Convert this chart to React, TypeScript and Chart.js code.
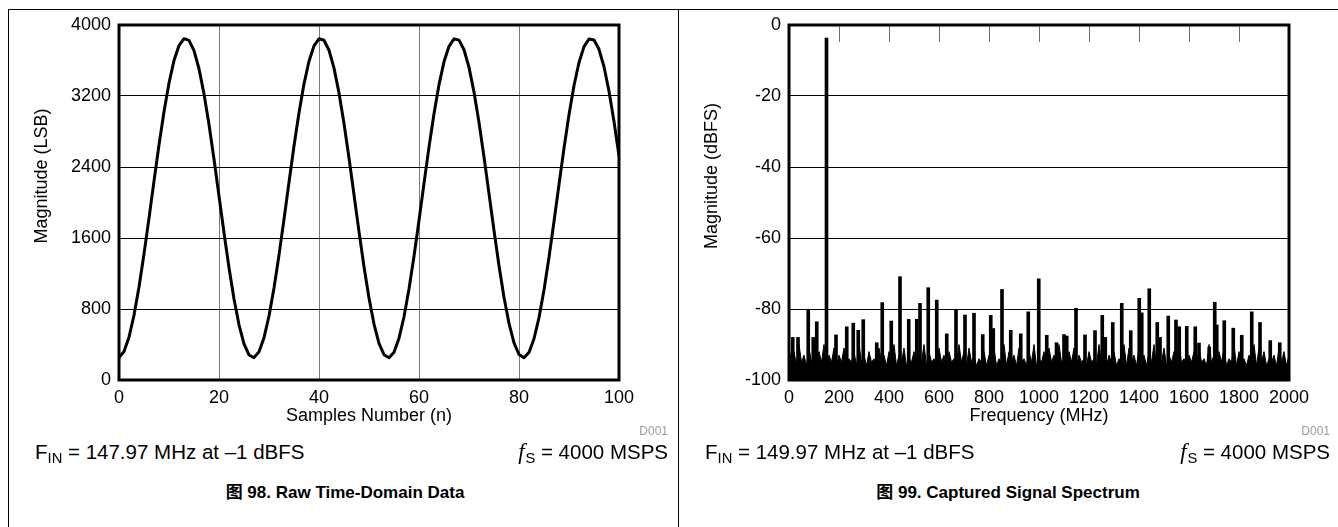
import React, { useEffect, useRef } from "react";
import { Chart, registerables } from "chart.js";

Chart.register(...registerables);

const FONT = "'Liberation Sans', Arial, Helvetica, 'Noto Sans CJK SC', sans-serif";

// ---------- Figure 98: raw time-domain samples ----------
const SAMPLE_X_TICKS = [0, 20, 40, 60, 80, 100];
const SAMPLE_MAGNITUDE_LSB = [
  252, 321, 483, 730, 1047, 1419, 1824, 2241, 2648, 3023,
  3346, 3599, 3768, 3846, 3826, 3711, 3507, 3224, 2879, 2488,
  2074, 1659, 1265, 913, 622, 408, 282, 252, 318, 477,
  721, 1036, 1407, 1811, 2228, 2636, 3012, 3337, 3592, 3765,
  3845, 3828, 3716, 3514, 3234, 2890, 2501, 2087, 1672, 1276,
  923, 630, 413, 285, 251, 314, 471, 712, 1026, 1394,
  1798, 2215, 2624, 3001, 3328, 3585, 3760, 3844, 3830, 3721,
  3522, 3244, 2902, 2513, 2100, 1685, 1288, 933, 638, 419,
  287, 251, 311, 465, 703, 1015, 1382, 1785, 2202, 2611,
  2990, 3318, 3578, 3756, 3842, 3832, 3726, 3530, 3253, 2913,
  2526,
];

// ---------- Figure 99: captured spectrum ----------
const SPUR_FREQ_MHZ = [
  15, 36, 77, 97, 111, 150, 188, 231, 257, 277,
  297, 351, 373, 409, 444, 479, 511, 524, 557, 591,
  631, 668, 704, 740, 775, 807, 817, 852, 887, 927,
  957, 999, 1031, 1070, 1100, 1111, 1148, 1184, 1224, 1253,
  1265, 1295, 1331, 1367, 1401, 1411, 1441, 1473, 1484, 1517,
  1548, 1561, 1591, 1625, 1640, 1681, 1703, 1711, 1741, 1777,
  1811, 1851, 1884, 1925, 1963,
];
const SPUR_DBFS = [
  -88, -88, -80.3, -88, -83.6, -3.7, -87.3, -85, -84, -86,
  -83, -89.5, -78.2, -83.4, -70.9, -82.9, -82.9, -78.4, -74, -77.5,
  -87, -80.1, -81.7, -81.2, -87.2, -81.8, -85.5, -74.5, -86, -87,
  -80.8, -71.5, -87.4, -89.5, -87.2, -87.6, -79.8, -87.3, -86.1, -81.8,
  -88, -83.8, -78.4, -86.1, -77, -81.1, -74.3, -83.8, -88, -82,
  -83.1, -85, -84.9, -85, -89.6, -90.7, -78.1, -84.5, -83.3, -85.4,
  -87.4, -80.8, -83.8, -88.9, -89.5,
];
const NOISE_STEP_MHZ = 10;
const NOISE_DBFS = [
  -91, -95, -92, -96, -90, -95, -93, -96, -91, -95, -94, -96, -92, -95, -90, -96, -93, -95, -91, -96,
  -93, -95, -91, -96, -94, -95, -92, -96, -90, -95, -93, -96, -92, -95, -94, -96, -91, -95, -93, -96,
  -92, -95, -90, -96, -93, -95, -91, -96, -94, -95, -92, -96, -93, -95, -90, -96, -92, -95, -94, -96,
  -91, -95, -93, -96, -92, -95, -94, -96, -90, -95, -92, -96, -91, -95, -93, -96, -94, -95, -92, -96,
  -93, -95, -91, -96, -94, -95, -90, -96, -92, -95, -93, -96, -91, -95, -94, -96, -92, -95, -90, -96,
  -94, -95, -92, -96, -91, -95, -93, -96, -90, -95, -94, -96, -92, -95, -91, -96, -93, -95, -94, -96,
  -92, -95, -94, -96, -90, -95, -91, -96, -93, -95, -92, -96, -94, -95, -90, -96, -91, -95, -93, -96,
  -91, -95, -93, -96, -92, -95, -90, -96, -94, -95, -91, -96, -93, -95, -92, -96, -90, -95, -94, -96,
  -93, -95, -92, -96, -91, -95, -94, -96, -90, -95, -93, -96, -92, -95, -91, -96, -94, -95, -90, -96,
  -92, -95, -94, -96, -93, -95, -90, -96, -91, -95, -92, -96, -94, -95, -93, -96, -91, -95, -92, -96,
  -93,
];

const CANVAS_H = 440;

const framePlugin = {
  id: "frame",
  afterDraw(chart: any) {
    const { ctx, chartArea } = chart;
    const opts = chart.options.plugins.frame || {};
    ctx.save();
    if (opts.topTicks) {
      const xs = chart.scales.x;
      ctx.strokeStyle = "#6f6f6f";
      ctx.lineWidth = 1;
      xs.ticks.forEach((t: any) => {
        if (t.value <= xs.min || t.value >= xs.max) return;
        const px = Math.round(xs.getPixelForValue(t.value)) + 0.5;
        ctx.beginPath();
        ctx.moveTo(px, chartArea.top);
        ctx.lineTo(px, chartArea.top + 17);
        ctx.stroke();
      });
    }
    ctx.strokeStyle = "#000";
    ctx.lineWidth = 3;
    ctx.strokeRect(chartArea.left, chartArea.top, chartArea.right - chartArea.left, chartArea.bottom - chartArea.top);
    ctx.restore();
  },
};

const tickFont = { family: FONT, size: 18 };
const titleFont = { family: FONT, size: 18 };
const plainTick = (v: any) => String(v);

function TimeChart() {
  const ref = useRef<HTMLCanvasElement>(null);
  useEffect(() => {
    const chart = new Chart(ref.current as HTMLCanvasElement, {
      type: "line",
      data: {
        datasets: [
          {
            data: SAMPLE_MAGNITUDE_LSB.map((y, x) => ({ x, y })),
            borderColor: "#000",
            borderWidth: 3,
            pointRadius: 0,
            tension: 0,
            borderJoinStyle: "round",
            fill: false,
          },
        ],
      },
      options: {
        animation: false,
        responsive: false,
        maintainAspectRatio: false,
        layout: { padding: { left: 0, top: 25, right: 59, bottom: 0 } },
        plugins: { legend: { display: false }, tooltip: { enabled: false }, frame: {} } as any,
        scales: {
          x: {
            type: "linear",
            min: SAMPLE_X_TICKS[0],
            max: SAMPLE_X_TICKS[SAMPLE_X_TICKS.length - 1],
            afterFit: (s: any) => { s.height = 60; },
            afterBuildTicks: (s: any) => { s.ticks = SAMPLE_X_TICKS.map((v) => ({ value: v })); },
            border: { display: false },
            grid: {
              drawTicks: false,
              lineWidth: 1,
              color: (c: any) => (c.tick && c.tick.value > 0 && c.tick.value < 100 ? "#7a7a7a" : "rgba(0,0,0,0)"),
            },
            ticks: { padding: 7, color: "#000", font: tickFont, maxRotation: 0, callback: plainTick },
            title: { display: true, text: "Samples Number (n)", color: "#000", font: titleFont, padding: { top: 0, bottom: 13 } },
          },
          y: {
            min: 0,
            max: 4000,
            afterFit: (s: any) => { s.width = 119; },
            border: { display: false },
            grid: {
              drawTicks: false,
              lineWidth: 1,
              color: (c: any) => (c.tick && c.tick.value > 0 && c.tick.value < 4000 ? "#000" : "rgba(0,0,0,0)"),
            },
            ticks: { stepSize: 800, padding: 8, color: "#000", font: tickFont, callback: plainTick },
          },
        },
      } as any,
      plugins: [framePlugin],
    } as any);
    return () => chart.destroy();
  }, []);
  return <canvas ref={ref} width={678} height={CANVAS_H} style={{ position: "absolute", left: 0, top: 0, width: 678, height: CANVAS_H }} />;
}

function SpectrumChart() {
  const ref = useRef<HTMLCanvasElement>(null);
  useEffect(() => {
    const chart = new Chart(ref.current as HTMLCanvasElement, {
      type: "bar",
      data: {
        datasets: [
          {
            type: "bar",
            data: SPUR_FREQ_MHZ.map((x, i) => ({ x, y: SPUR_DBFS[i] })),
            backgroundColor: "#000",
            borderWidth: 0,
            barThickness: 3,
            base: -100,
            grouped: false,
          },
          {
            type: "line",
            data: NOISE_DBFS.map((y, i) => ({ x: i * NOISE_STEP_MHZ, y })),
            borderColor: "#000",
            backgroundColor: "#000",
            borderWidth: 1,
            pointRadius: 0,
            tension: 0,
            fill: "start",
          },
        ],
      },
      options: {
        animation: false,
        responsive: false,
        maintainAspectRatio: false,
        layout: { padding: { left: 0, top: 25, right: 49, bottom: 0 } },
        plugins: { legend: { display: false }, tooltip: { enabled: false }, frame: { topTicks: true } } as any,
        scales: {
          x: {
            type: "linear",
            min: 0,
            max: 2000,
            offset: false,
            afterFit: (s: any) => { s.height = 60; },
            border: { display: false },
            grid: { display: false, offset: false, drawTicks: false },
            ticks: { stepSize: 200, padding: 7, color: "#000", font: tickFont, maxRotation: 0, autoSkip: false, callback: plainTick },
            title: { display: true, text: "Frequency (MHz)", color: "#000", font: titleFont, padding: { top: 0, bottom: 13 } },
          },
          y: {
            min: -100,
            max: 0,
            afterFit: (s: any) => { s.width = 111; },
            border: { display: false },
            grid: {
              drawTicks: false,
              lineWidth: 1,
              color: (c: any) => (c.tick && c.tick.value > -100 && c.tick.value < 0 ? "#000" : "rgba(0,0,0,0)"),
            },
            ticks: { stepSize: 20, padding: 8, color: "#000", font: tickFont, callback: plainTick },
          },
        },
      } as any,
      plugins: [framePlugin],
    } as any);
    return () => chart.destroy();
  }, []);
  return <canvas ref={ref} width={660} height={CANVAS_H} style={{ position: "absolute", left: 678, top: 0, width: 660, height: CANVAS_H }} />;
}

const noteStyle: React.CSSProperties = {
  position: "absolute",
  fontFamily: FONT,
  fontSize: 20.5,
  lineHeight: "24px",
  color: "#000",
  whiteSpace: "nowrap",
};

function Sub({ children }: { children: React.ReactNode }) {
  return <span style={{ fontSize: "0.72em", position: "relative", top: "0.3em" }}>{children}</span>;
}

function YTitle({ cx, cy, text }: { cx: number; cy: number; text: string }) {
  const w = 240;
  return (
    <div
      style={{
        ...noteStyle,
        fontSize: 18,
        lineHeight: "22px",
        width: w,
        textAlign: "center",
        left: cx - w / 2,
        top: cy - 11,
        transform: "rotate(-90deg)",
        transformOrigin: "50% 50%",
      }}
    >
      {text}
    </div>
  );
}

function Notes({ left, right, center, fin, caption }: { left: number; right: number; center: number; fin: string; caption: string }) {
  return (
    <>
      <div style={{ ...noteStyle, left: 0, width: right, textAlign: "right", top: 424, fontSize: 12, lineHeight: "14px", color: "#9c9c9c" }}>D001</div>
      <div style={{ ...noteStyle, left: left, top: 440 }}>
        F<Sub>IN</Sub> = {fin} MHz at –1 dBFS
      </div>
      <div style={{ ...noteStyle, left: 0, width: right, textAlign: "right", top: 440 }}>
        <i style={{ fontFamily: "'Liberation Serif', serif", fontSize: "1.1em", marginRight: 1 }}>f</i>
        <Sub>S</Sub> = 4000 MSPS
      </div>
      <div style={{ ...noteStyle, left: center - 250, width: 500, textAlign: "center", top: 482, fontWeight: "bold", fontSize: 17, lineHeight: "22px" }}>
        {caption}
      </div>
    </>
  );
}

export default function App() {
  return (
    <div style={{ position: "absolute", left: 0, top: 0, width: 1338, height: 527, overflow: "hidden", background: "#fff" }}>
      <div style={{ position: "absolute", left: 8, top: 9, width: 1330, height: 1, background: "#000" }} />
      <div style={{ position: "absolute", left: 8, top: 9, width: 1, height: 518, background: "#000" }} />
      <div style={{ position: "absolute", left: 678, top: 9, width: 1, height: 518, background: "#000" }} />
      <TimeChart />
      <SpectrumChart />
      <YTitle cx={41} cy={176} text="Magnitude (LSB)" />
      <YTitle cx={711} cy={176} text="Magnitude (dBFS)" />
      <Notes left={35} right={668} center={345} fin="147.97" caption="图 98. Raw Time-Domain Data" />
      <Notes left={705} right={1330} center={1008} fin="149.97" caption="图 99. Captured Signal Spectrum" />
    </div>
  );
}
